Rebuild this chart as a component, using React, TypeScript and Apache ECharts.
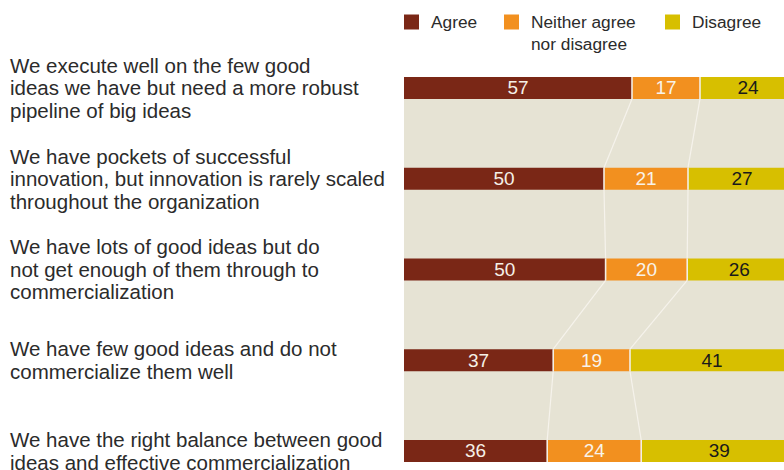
import React, { useEffect, useRef } from "react";
import * as echarts from "echarts";

const categories = [
  "We execute well on the few good\nideas we have but need a more robust\npipeline of big ideas",
  "We have pockets of successful\ninnovation, but innovation is rarely scaled\nthroughout the organization",
  "We have lots of good ideas but do\nnot get enough of them through to\ncommercialization",
  "We have few good ideas and do not\ncommercialize them well",
  "We have the right balance between good\nideas and effective commercialization",
];
const agree = [57, 50, 50.4, 37.3, 35.8];
const neither = [17, 21, 20.4, 19.2, 23.5];
const disagree = [24, 27, 26, 41, 39];
const seriesNames = ["Agree", "Neither agree nor disagree", "Disagree"];
const colors = ["#7A2716", "#F2901F", "#D7BF00"];

const FONT = "'Liberation Sans', Arial, Helvetica, sans-serif";
const BAR_W = 22;

export default function App() {
  const ref = useRef<HTMLDivElement>(null);
  useEffect(() => {
    if (!ref.current) return;
    const chart = echarts.init(ref.current, null, { renderer: "svg" });
    const n = categories.length;
    const boundary = (k: number, i: number) => agree[i] + (k === 1 ? neither[i] : 0);
    const labelFmt = (p: any) => String(Math.round(p.value));
    const mkBar = (idx: number, data: number[], lblColor: string) => ({
      type: "bar",
      name: seriesNames[idx],
      stack: "total",
      barWidth: BAR_W,
      data,
      itemStyle: { color: colors[idx] },
      label: {
        show: true,
        position: "inside",
        formatter: labelFmt,
        color: lblColor,
        fontSize: 19,
        fontFamily: FONT,
      },
      z: 2,
    });
    const mkLegend = (name: string, left: number, top: number, extra: any = {}) => ({
      show: true,
      data: [name],
      left,
      top,
      padding: 0,
      orient: "horizontal",
      itemWidth: 15,
      itemHeight: 15,
      icon: "rect",
      selectedMode: false,
      formatter: (nm: string) => (nm === "Neither agree nor disagree" ? "Neither agree\nnor disagree" : nm),
      textStyle: {
        fontSize: 17.3,
        fontFamily: FONT,
        color: "#2b2b2b",
        lineHeight: 22,
        padding: [0, 0, 0, 7],
      },
      ...extra,
    });
    chart.setOption({
      animation: false,
      legend: [
        mkLegend("Agree", 404, 11),
        mkLegend("Neither agree nor disagree", 504, 11, {
          itemHeight: 44,
          icon: "path://M0,0L0.01,0M0,3.5h15v15h-15zM0,44L0.01,44",
        }),
        mkLegend("Disagree", 665, 11),
      ],
      graphic: [
        {
          type: "rect",
          shape: { x: 404, y: 77, width: 380, height: 385 },
          style: { fill: "#E6E3D4" },
          z: -10,
          silent: true,
        },
      ],
      grid: {
        left: 404,
        width: 400,
        top: 42.6,
        height: 453.75,
        containLabel: false,
        outerBoundsMode: "none",
      },
      xAxis: { type: "value", min: 0, max: 100, show: false },
      yAxis: {
        type: "category",
        inverse: true,
        data: categories,
        axisLine: { show: false },
        axisTick: { show: false },
        splitLine: { show: false },
        axisLabel: {
          align: "left",
          margin: 394,
          fontSize: 20.5,
          lineHeight: 22.5,
          color: "#2b2b2b",
          fontFamily: FONT,
        },
      },
      series: [
        mkBar(0, agree, "#F5F0E6"),
        mkBar(1, neither, "#F8F3EA"),
        mkBar(2, disagree, "#1a1a1a"),
        {
          type: "custom",
          name: "connectors",
          silent: true,
          z: 5,
          data: [[0, 0], [0, 0]],
          renderItem: (params: any, api: any) => {
            const k = params.dataIndex;
            const children: any[] = [];
            const half = BAR_W / 2;
            for (let i = 0; i < n; i++) {
              const p = api.coord([boundary(k, i), i]);
              children.push({
                type: "line",
                shape: { x1: p[0], y1: p[1] - half, x2: p[0], y2: p[1] + half },
                style: { stroke: "#F3EFE5", lineWidth: 1.6 },
              });
              if (i < n - 1) {
                const q = api.coord([boundary(k, i + 1), i + 1]);
                children.push({
                  type: "line",
                  shape: { x1: p[0], y1: p[1] + half, x2: q[0], y2: q[1] - half },
                  style: { stroke: "#F6F3EC", lineWidth: 1.2 },
                });
              }
            }
            return { type: "group", children };
          },
        },
      ],
    });
    return () => chart.dispose();
  }, []);
  return (
    <div
      ref={ref}
      style={{ position: "absolute", left: 0, top: 0, width: 784, height: 470, background: "#fff" }}
    />
  );
}
